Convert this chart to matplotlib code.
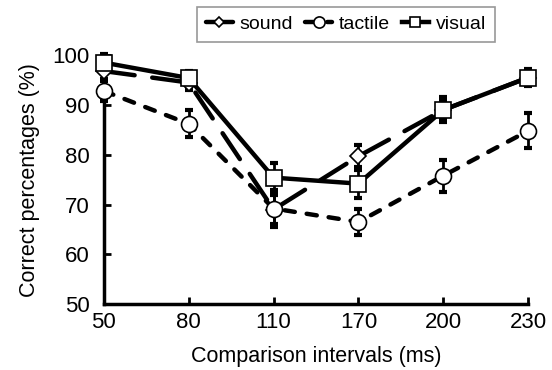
import matplotlib
matplotlib.use("Agg")
import matplotlib.pyplot as plt
import numpy as np

plt.rcParams["font.family"] = ["Liberation Sans", "DejaVu Sans"]

INTERVALS = ["50", "80", "110", "170", "200", "230"]
SOUND = [96.8, 94.5, 69.0, 79.7, 89.0, 95.5]
SOUND_ERR = [1.5, 1.5, 3.0, 2.2, 2.0, 1.5]
TACTILE = [92.8, 86.2, 69.2, 66.5, 75.8, 84.8]
TACTILE_ERR = [2.0, 2.7, 3.7, 2.7, 3.2, 3.5]
VISUAL = [98.5, 95.4, 75.4, 74.2, 89.0, 95.5]
VISUAL_ERR = [1.8, 1.5, 3.0, 2.8, 2.5, 1.7]

x = np.arange(len(INTERVALS))

fig = plt.figure(figsize=(5.52, 3.70), dpi=100)
ax = fig.add_axes([0.188, 0.178, 0.769, 0.673])

series = [
    ("sound", SOUND, SOUND_ERR, "D", 8, (0, (7.0, 4.0))),
    ("tactile", TACTILE, TACTILE_ERR, "o", 11.5, (0, (2.3, 2.7))),
    ("visual", VISUAL, VISUAL_ERR, "s", 11, "-"),
]
handles = []
for name, vals, err, mk, ms, ls in series:
    ax.errorbar(x, vals, yerr=err, fmt="none", ecolor="black", elinewidth=2,
                capsize=3, capthick=3, clip_on=False, zorder=3)
    h, = ax.plot(x, vals, color="black", lw=3.2, ls=ls, marker=mk, ms=ms,
                 mfc="white", mec="black", mew=1.2, clip_on=False, zorder=4,
                 dash_capstyle="round", label=name)
    handles.append(h)

ax.set_xlim(0, len(INTERVALS) - 1)
ax.set_ylim(50, 100)
ax.set_xticks(x)
ax.set_xticklabels(INTERVALS)
ax.set_yticks(np.arange(50, 101, 10))
for s in ("top", "right"):
    ax.spines[s].set_visible(False)
for s in ("left", "bottom"):
    ax.spines[s].set_linewidth(2.5)
ax.tick_params(direction="in", length=5, width=2, labelsize=16)
ax.tick_params(axis="x", pad=6)
ax.tick_params(axis="y", pad=10)
ax.set_xlabel("Comparison intervals (ms)", fontsize=15.5, labelpad=9)
ax.set_ylabel("Correct percentages (%)", fontsize=15.5, labelpad=9)

leg = fig.legend(handles=handles, loc="upper left", bbox_to_anchor=(0.357, 0.982),
                 borderaxespad=0, ncol=3, frameon=True, fancybox=False, fontsize=14,
                 handlelength=1.4, handletextpad=0.35, columnspacing=0.6,
                 borderpad=0.45, edgecolor="#7f7f7f", markerscale=0.7)
leg.get_frame().set_linewidth(1.2)

fig.savefig("out.png", dpi=100)
